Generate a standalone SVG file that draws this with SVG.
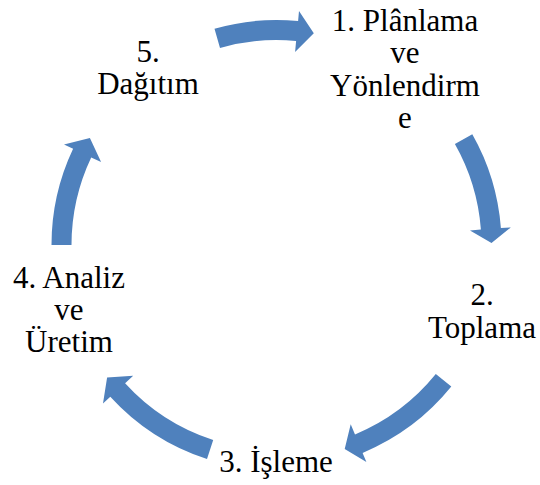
<svg xmlns="http://www.w3.org/2000/svg" width="540" height="485" viewBox="0 0 540 485">
<style>
.lbl{font-family:"Liberation Serif","Times New Roman",serif;font-size:31px;fill:#000;text-anchor:middle}
.arr{fill:#4F81BD;stroke:none}
</style>
<rect width="540" height="485" fill="#fff"/>
<g id="connectors">
<path id="arrow-5-1" class="arr" d="M214.5,28.7 A225,225 0 0 1 298.1,21.0 L299.0,11.1 L313.8,33.3 L295.1,51.9 L296.1,40.9 A205,205 0 0 0 220.0,47.9 Z"/>
<path id="arrow-1-2" class="arr" d="M472.3,134.2 A225,225 0 0 1 500.9,228.1 L510.8,227.4 L491.5,243.1 L470.0,230.5 L480.9,229.6 A205,205 0 0 0 454.9,144.1 Z"/>
<path id="arrow-2-3" class="arr" d="M451.3,386.6 A225,225 0 0 1 362.6,452.9 L366.4,462.1 L344.7,448.9 L350.7,424.2 L355.0,434.4 A205,205 0 0 0 435.8,374.0 Z"/>
<path id="arrow-3-4" class="arr" d="M207.0,459.0 A225,225 0 0 1 110.3,396.7 L103.0,403.5 L107.1,377.4 L133.2,375.8 L125.1,383.2 A205,205 0 0 0 213.2,440.0 Z"/>
<path id="arrow-4-5" class="arr" d="M51.5,245 A225,225 0 0 1 73.1,148.8 L64.0,144.6 L89.9,138.1 L101.1,162.1 L91.2,157.4 A205,205 0 0 0 71.5,245 Z"/>
</g>
<g id="node1">
<text class="lbl" x="405" y="31">1. Plânlama</text>
<text class="lbl" x="405" y="63">ve</text>
<text class="lbl" x="405" y="96">Yönlendirm</text>
<text class="lbl" x="405" y="128">e</text>
</g>
<g id="node2">
<text class="lbl" x="482" y="305">2.</text>
<text class="lbl" x="482" y="338">Toplama</text>
</g>
<g id="node3">
<text class="lbl" x="276" y="472">3. İşleme</text>
</g>
<g id="node4">
<text class="lbl" x="69" y="288">4. Analiz</text>
<text class="lbl" x="69" y="320">ve</text>
<text class="lbl" x="69" y="352">Üretim</text>
</g>
<g id="node5">
<text class="lbl" x="148" y="62">5.</text>
<text class="lbl" x="148" y="94">Dağıtım</text>
</g>
</svg>
